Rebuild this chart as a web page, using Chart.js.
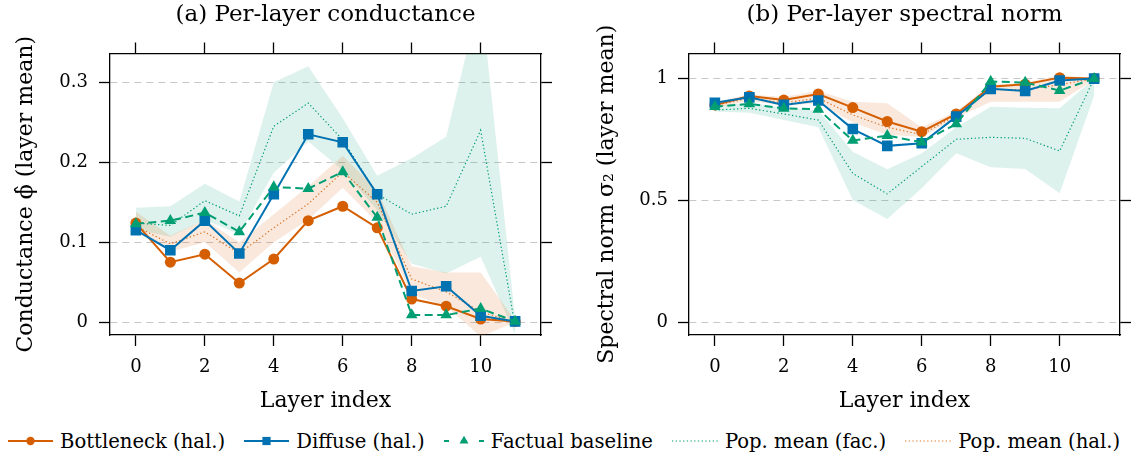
<!DOCTYPE html>
<html>
<head>
<meta charset="utf-8">
<title>Per-layer conductance and spectral norm</title>
<script src="https://cdn.jsdelivr.net/npm/chart.js@4.4.1/dist/chart.umd.min.js"></script>
<style>
    html, body { margin: 0; padding: 0; background: #fff; }
    #figure { position: relative; width: 1132px; height: 458px; overflow: hidden; font-family: 'DejaVu Serif', serif; color: #000; }
    #chartCond { position: absolute; left: 0; top: 0; }
    #chartSpec { position: absolute; left: 566px; top: 0; }
    #legend { position: absolute; left: 8px; top: 427px; height: 28px; display: flex; align-items: center; white-space: nowrap; font-size: 19.6px; }
    .legend-item { display: flex; align-items: center; margin-right: 19px; }
    .legend-item canvas { margin-right: 7px; }
</style>
</head>
<body>
<div id="figure">
    <canvas id="chartCond" width="566" height="420"></canvas>
    <canvas id="chartSpec" width="566" height="420"></canvas>
    <div id="legend"></div>
</div>
<script>
// ============== DATA ==============

const layers = [0, 1, 2, 3, 4, 5, 6, 7, 8, 9, 10, 11];
const xTicks = [0, 2, 4, 6, 8, 10];
const xTickLabels = ['0', '2', '4', '6', '8', '10'];

const condTicks = [0, 0.1, 0.2, 0.3];
const condTickLabels = ['0', '0.1', '0.2', '0.3'];
const specTicks = [0, 0.5, 1];
const specTickLabels = ['0', '0.5', '1'];

const seriesLabels = ['Bottleneck (hal.)', 'Diffuse (hal.)', 'Factual baseline', 'Pop. mean (fac.)', 'Pop. mean (hal.)'];

// (a) per-layer conductance
const condBottleneck = [0.124, 0.075, 0.085, 0.049, 0.079, 0.127, 0.145, 0.118, 0.029, 0.020, 0.004, 0.001];
const condDiffuse    = [0.115, 0.090, 0.127, 0.086, 0.160, 0.235, 0.225, 0.160, 0.039, 0.045, 0.008, 0.001];
const condFactual    = [0.123, 0.127, 0.137, 0.113, 0.169, 0.167, 0.188, 0.131, 0.009, 0.009, 0.017, 0.001];
const condPopFac     = [0.124, 0.121, 0.152, 0.133, 0.245, 0.274, 0.228, 0.160, 0.135, 0.145, 0.240, -0.005];
const condFacLow     = [0.116, 0.107, 0.128, 0.110, 0.187, 0.226, 0.190, 0.140, 0.073, 0.061, 0.082, -0.015];
const condFacHigh    = [0.143, 0.145, 0.173, 0.151, 0.300, 0.320, 0.255, 0.183, 0.205, 0.232, 0.410, 0.005];
const condPopHal     = [0.120, 0.098, 0.113, 0.086, 0.118, 0.148, 0.188, 0.150, 0.054, 0.038, 0.013, 0.000];
const condHalLow     = [0.113, 0.088, 0.100, 0.062, 0.100, 0.128, 0.168, 0.125, 0.035, 0.020, -0.018, 0.000];
const condHalHigh    = [0.138, 0.108, 0.128, 0.100, 0.135, 0.170, 0.208, 0.165, 0.070, 0.062, 0.062, 0.002];

// (b) per-layer spectral norm
const specBottleneck = [0.892, 0.929, 0.912, 0.937, 0.881, 0.824, 0.782, 0.855, 0.967, 0.977, 1.004, 1.000];
const specDiffuse    = [0.901, 0.923, 0.892, 0.910, 0.793, 0.724, 0.735, 0.844, 0.958, 0.949, 0.992, 1.000];
const specFactual    = [0.885, 0.896, 0.878, 0.874, 0.746, 0.766, 0.739, 0.814, 0.988, 0.984, 0.951, 1.000];
const specPopFac     = [0.871, 0.878, 0.855, 0.830, 0.611, 0.527, 0.639, 0.751, 0.759, 0.755, 0.703, 1.000];
const specFacLow     = [0.865, 0.860, 0.830, 0.800, 0.502, 0.424, 0.550, 0.694, 0.636, 0.629, 0.530, 0.930];
const specFacHigh    = [0.890, 0.900, 0.880, 0.870, 0.700, 0.628, 0.694, 0.800, 0.885, 0.880, 0.878, 1.000];
const specPopHal     = [0.890, 0.920, 0.900, 0.920, 0.851, 0.800, 0.770, 0.850, 0.955, 0.955, 0.975, 1.000];
const specHalLow     = [0.878, 0.910, 0.888, 0.900, 0.820, 0.770, 0.760, 0.838, 0.905, 0.905, 0.905, 0.995];
const specHalHigh    = [0.902, 0.935, 0.925, 0.950, 0.905, 0.899, 0.800, 0.865, 0.975, 0.982, 1.015, 1.000];

// ============== STYLE ==============

const ORANGE = '#d55e00';
const BLUE = '#0072b2';
const GREEN = '#009e73';
const FONT = "'DejaVu Serif', serif";
const FRAME = 1.3;

const styles = {
    bottleneck: { color: ORANGE, width: 2, dash: [], pointStyle: 'circle', radius: 5.5, legendRadius: 4.2 },
    diffuse:    { color: BLUE, width: 2, dash: [], pointStyle: 'rect', radius: 7.5, legendRadius: 5.8 },
    factual:    { color: GREEN, width: 2, dash: [8, 4.5], pointStyle: 'triangle', radius: 6.7, legendRadius: 5.2, legendDash: [5, 12.5, 5, 12.5] },
    popFac:     { color: GREEN, width: 1.2, dash: [1.3, 2.4], pointStyle: false },
    popHal:     { color: 'rgba(213, 94, 0, 0.85)', width: 1.2, dash: [1.3, 2.4], pointStyle: false }
};

function pts(values) {
    return values.map((v, i) => ({ x: layers[i], y: v }));
}

function lineSet(label, values, st, order) {
    return {
        label: label,
        data: pts(values),
        borderColor: st.color,
        backgroundColor: st.color,
        borderWidth: st.width,
        borderDash: st.dash,
        pointStyle: st.pointStyle,
        pointRadius: st.pointStyle ? st.radius : 0,
        pointBorderWidth: 0,
        pointBackgroundColor: st.color,
        fill: false,
        tension: 0,
        order: order
    };
}

function bandSet(label, values, color, fillTarget, order) {
    return {
        label: label,
        data: pts(values),
        borderWidth: 0,
        borderColor: 'rgba(0,0,0,0)',
        backgroundColor: color,
        pointRadius: 0,
        fill: fillTarget,
        tension: 0,
        order: order
    };
}

function buildDatasets(s) {
    return [
        lineSet(seriesLabels[2], s.factual, styles.factual, 1),
        lineSet(seriesLabels[1], s.diffuse, styles.diffuse, 2),
        lineSet(seriesLabels[0], s.bottleneck, styles.bottleneck, 3),
        lineSet(seriesLabels[3], s.popFac, styles.popFac, 4),
        lineSet(seriesLabels[4], s.popHal, styles.popHal, 5),
        bandSet('fac band high', s.facHigh, 'rgba(0, 158, 115, 0.13)', '+1', 7),
        bandSet('fac band low', s.facLow, 'rgba(0,0,0,0)', false, 8),
        bandSet('hal band high', s.halHigh, 'rgba(213, 94, 0, 0.14)', '+1', 6),
        bandSet('hal band low', s.halLow, 'rgba(0,0,0,0)', false, 9)
    ];
}

const tickGrid = { drawOnChartArea: false, drawTicks: true, tickLength: 11, tickColor: '#000', tickWidth: FRAME, tickBorderDash: [] };
const frameBorder = { display: true, color: '#000', width: FRAME };

/**
 * Một panel: trục dưới + trục trái có nhãn, trục trên/phải chỉ có vạch
 */
function makePanel(canvasId, p) {
    const yGrid = {
        drawOnChartArea: true, drawTicks: true, color: '#c8c8c8', lineWidth: 1,
        tickLength: 11, tickColor: '#000', tickWidth: FRAME, tickBorderDash: []
    };
    // v4: border.dash is what dashes the grid lines
    const yBorder = { display: true, color: '#000', width: FRAME, dash: [7, 5] };
    const setX = s => { s.ticks = xTicks.map(v => ({ value: v })); };
    const setY = s => { s.ticks = p.yTicks.map(v => ({ value: v })); };

    return new Chart(document.getElementById(canvasId), {
        type: 'line',
        data: { datasets: buildDatasets(p.series) },
        options: {
            responsive: false,
            animation: false,
            events: [],
            layout: { padding: 0 },
            plugins: { legend: { display: false }, tooltip: { enabled: false }, title: { display: false } },
            scales: {
                x: {
                    type: 'linear', axis: 'x', position: 'bottom', min: -0.75, max: 11.75,
                    afterBuildTicks: setX,
                    afterFit: s => { s.height = 85; },
                    ticks: { autoSkip: false, maxRotation: 0, padding: 11, color: '#000',
                             font: { family: FONT, size: 18 }, callback: (v, i) => xTickLabels[i] },
                    grid: tickGrid,
                    border: frameBorder,
                    title: { display: true, text: 'Layer index', color: '#000',
                             font: { family: FONT, size: 22 }, padding: { top: 0, bottom: 6 } }
                },
                xTop: {
                    type: 'linear', axis: 'x', position: 'top', min: -0.75, max: 11.75,
                    afterBuildTicks: setX,
                    afterFit: s => { s.height = 53.5; },
                    ticks: { display: false },
                    grid: tickGrid,
                    border: frameBorder,
                    title: { display: true, text: p.title, color: '#000',
                             font: { family: FONT, size: 23 }, padding: { top: 1.5, bottom: 0 } }
                },
                y: {
                    type: 'linear', axis: 'y', position: 'left', min: p.yMin, max: p.yMax,
                    afterBuildTicks: setY,
                    afterFit: s => { s.width = p.leftWidth; },
                    ticks: { autoSkip: false, padding: p.tickPad, color: '#000',
                             font: { family: FONT, size: 18 }, callback: (v, i) => p.yTickLabels[i] },
                    grid: yGrid,
                    border: yBorder,
                    title: { display: true, text: p.yTitle, color: '#000',
                             font: { family: FONT, size: 22 }, padding: { top: p.titlePad, bottom: 0 } }
                },
                yRight: {
                    type: 'linear', axis: 'y', position: 'right', min: p.yMin, max: p.yMax,
                    afterBuildTicks: setY,
                    afterFit: s => { s.width = p.rightWidth; },
                    ticks: { display: false },
                    grid: tickGrid,
                    border: frameBorder
                }
            }
        }
    });
}

// ============== LEGEND ==============

function drawSwatch(canvas, st) {
    const ctx = canvas.getContext('2d');
    const w = canvas.width, cy = canvas.height / 2;
    ctx.strokeStyle = st.color;
    ctx.fillStyle = st.color;
    ctx.lineWidth = st.width;
    ctx.setLineDash(st.legendDash || st.dash);
    ctx.beginPath();
    ctx.moveTo(0, cy);
    ctx.lineTo(w, cy);
    ctx.stroke();
    ctx.setLineDash([]);
    if (st.pointStyle) {
        Chart.helpers.drawPoint(ctx, { pointStyle: st.pointStyle, radius: st.legendRadius, rotation: 0, borderWidth: 0 }, w / 2, cy);
    }
}

function buildLegend() {
    const legend = document.getElementById('legend');
    const entries = [
        [seriesLabels[0], styles.bottleneck, 45],
        [seriesLabels[1], styles.diffuse, 45],
        [seriesLabels[2], styles.factual, 40],
        [seriesLabels[3], styles.popFac, 46],
        [seriesLabels[4], styles.popHal, 46]
    ];
    entries.forEach(([label, st, w]) => {
        const item = document.createElement('div');
        item.className = 'legend-item';
        const c = document.createElement('canvas');
        c.width = w;
        c.height = 20;
        drawSwatch(c, st);
        const span = document.createElement('span');
        span.textContent = label;
        item.appendChild(c);
        item.appendChild(span);
        legend.appendChild(item);
    });
}

// ============== INIT ==============

makePanel('chartCond', {
    title: '(a) Per-layer conductance',
    yTitle: 'Conductance ϕ̂ (layer mean)',
    yMin: -0.016, yMax: 0.336,
    yTicks: condTicks, yTickLabels: condTickLabels,
    leftWidth: 110, rightWidth: 25, tickPad: 11, titlePad: 13,
    series: {
        bottleneck: condBottleneck, diffuse: condDiffuse, factual: condFactual,
        popFac: condPopFac, facLow: condFacLow, facHigh: condFacHigh,
        popHal: condPopHal, halLow: condHalLow, halHigh: condHalHigh
    }
});

makePanel('chartSpec', {
    title: '(b) Per-layer spectral norm',
    yTitle: 'Spectral norm σ₂ (layer mean)',
    yMin: -0.052, yMax: 1.103,
    yTicks: specTicks, yTickLabels: specTickLabels,
    leftWidth: 123, rightWidth: 12, tickPad: 10, titlePad: 28,
    series: {
        bottleneck: specBottleneck, diffuse: specDiffuse, factual: specFactual,
        popFac: specPopFac, facLow: specFacLow, facHigh: specFacHigh,
        popHal: specPopHal, halLow: specHalLow, halHigh: specHalHigh
    }
});

buildLegend();
</script>
</body>
</html>
